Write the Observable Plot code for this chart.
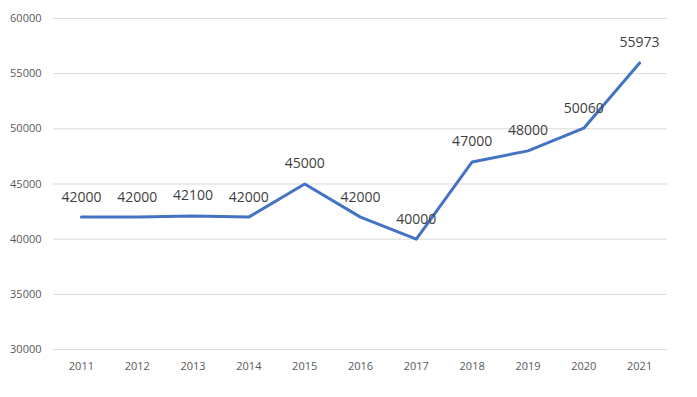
<!DOCTYPE html>
<html>
<head>
<meta charset="utf-8">
<script src="https://cdn.jsdelivr.net/npm/d3@7"></script>
<script src="https://cdn.jsdelivr.net/npm/@observablehq/plot@0.6"></script>
<style>
  body { margin: 0; background: #fff; }
  #chart svg { display: block; }
</style>
</head>
<body>
<div id="chart"></div>
<script>
const years = [2011, 2012, 2013, 2014, 2015, 2016, 2017, 2018, 2019, 2020, 2021];
const values = [42000, 42000, 42100, 42000, 45000, 42000, 40000, 47000, 48000, 50060, 55973];
const yTicks = [30000, 35000, 40000, 45000, 50000, 55000, 60000];

const data = years.map((y, i) => ({year: String(y), value: values[i]}));

const chart = Plot.plot({
  width: 697,
  height: 397,
  marginLeft: 53,
  marginRight: 30,
  marginTop: 18,
  marginBottom: 48,
  style: {fontFamily: "'Open Sans', 'Liberation Sans', sans-serif", background: "#fff"},
  x: {type: "point", domain: years.map(String), padding: 0.5, round: false, label: null},
  y: {domain: [30000, 60000], label: null},
  marks: [
    Plot.gridY(yTicks, {stroke: "#d9d9d9", strokeOpacity: 1, strokeWidth: 1}),
    Plot.axisY(yTicks, {tickSize: 0, tickPadding: 12, tickFormat: d => String(d), fontSize: 11, fill: "#595959", label: null}),
    Plot.axisX({tickSize: 0, tickPadding: 13, fontSize: 11, fill: "#595959", label: null}),
    Plot.line(data, {x: "year", y: "value", stroke: "#4472C4", strokeWidth: 3, strokeLinejoin: "round"}),
    Plot.text(data, {x: "year", y: "value", text: d => String(d.value), dy: -20, fontSize: 14, fill: "#404040"})
  ]
});
document.getElementById("chart").appendChild(chart);
</script>
</body>
</html>
